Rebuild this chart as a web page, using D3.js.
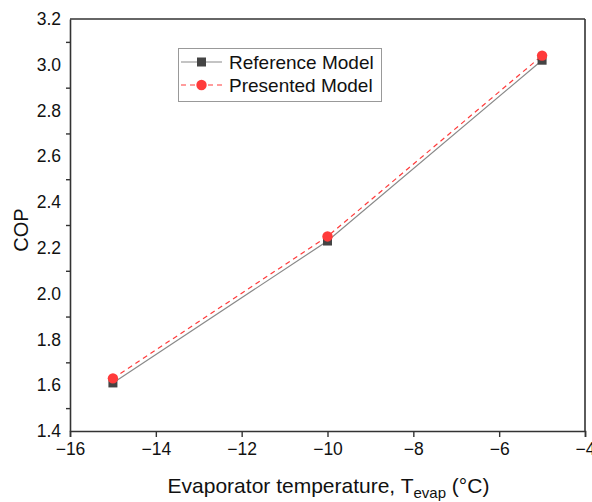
<!DOCTYPE html>
<html><head><meta charset="utf-8">
<script src="https://cdn.jsdelivr.net/npm/d3@7"></script>
<style>body{margin:0;background:#fff}</style>
</head><body>
<script>
const temps = [-15, -10, -5];
const referenceCOP = [1.61, 2.23, 3.02];
const presentedCOP = [1.63, 2.25, 3.04];
const xTicks = [-16, -14, -12, -10, -8, -6, -4];
const yTicks = [1.4, 1.6, 1.8, 2.0, 2.2, 2.4, 2.6, 2.8, 3.0, 3.2];
const yMinorTicks = [1.5, 1.7, 1.9, 2.1, 2.3, 2.5, 2.7, 2.9, 3.1];
const seriesNames = ["Reference Model", "Presented Model"];

const W = 592, H = 502;
const m = {left: 70, right: 7, top: 19, bottom: 71};
const svg = d3.select("body").append("svg").attr("width", W).attr("height", H)
  .style("font-family", "'Liberation Sans', Arial, sans-serif");

const x = d3.scaleLinear().domain([-16, -4]).range([m.left, W - m.right]);
const y = d3.scaleLinear().domain([1.4, 3.2]).range([H - m.bottom, m.top]);
const axisColor = "#333";

// x axis
const gx = svg.append("g").attr("transform", `translate(0,${H - m.bottom})`)
  .call(d3.axisBottom(x).tickValues(xTicks).tickSize(6).tickPadding(6).tickFormat(d => d3.format("d")(d).replace("-", "\u2212")));
gx.select(".domain").attr("stroke", axisColor).attr("stroke-width", 1.6);
gx.selectAll(".tick line").attr("stroke", axisColor).attr("stroke-width", 1.4);
gx.selectAll(".tick text").attr("font-size", 17.5).attr("fill", "#111");

// y axis
const gy = svg.append("g").attr("transform", `translate(${m.left},0)`)
  .call(d3.axisLeft(y).tickValues(yTicks).tickSize(0).tickPadding(9).tickFormat(d3.format(".1f")));
gy.select(".domain").attr("stroke", axisColor).attr("stroke-width", 1.6);
gy.selectAll(".tick text").attr("font-size", 17.5).attr("fill", "#111");
const gym = svg.append("g").attr("transform", `translate(${m.left},0)`)
  .call(d3.axisLeft(y).tickValues(yMinorTicks).tickSize(4).tickFormat(""));
gym.select(".domain").remove();
gym.selectAll(".tick line").attr("stroke", axisColor).attr("stroke-width", 1.4);

// top and right frame
svg.append("line").attr("x1", x(-16)).attr("x2", x(-4)).attr("y1", y(3.2)).attr("y2", y(3.2))
  .attr("stroke", axisColor).attr("stroke-width", 1.6);
svg.append("line").attr("x1", x(-4)).attr("x2", x(-4)).attr("y1", y(3.2)).attr("y2", y(1.4))
  .attr("stroke", axisColor).attr("stroke-width", 1.6);

// axis titles
svg.append("text").attr("transform", `translate(28,${(m.top + H - m.bottom) / 2 + 5}) rotate(-90)`)
  .attr("text-anchor", "middle").attr("font-size", 20).attr("fill", "#111").text("COP");
const xt = svg.append("text").attr("x", (m.left + W - m.right) / 2 + 1).attr("y", 493)
  .attr("text-anchor", "middle").attr("font-size", 21).attr("fill", "#111");
xt.append("tspan").text("Evaporator temperature, T");
xt.append("tspan").attr("font-size", 15).attr("dy", 5).text("evap");
xt.append("tspan").attr("dy", -5).text(" (°C)");

// data
const refData = temps.map((t, i) => [t, referenceCOP[i]]);
const preData = temps.map((t, i) => [t, presentedCOP[i]]);
const line = d3.line().x(d => x(d[0])).y(d => y(d[1]));
const refColor = "#444", refLine = "#8a8a8a", redColor = "#ff3b3b";

svg.append("path").datum(refData).attr("d", line).attr("fill", "none")
  .attr("stroke", refLine).attr("stroke-width", 1.2);
svg.append("path").datum(preData).attr("d", line).attr("fill", "none")
  .attr("stroke", redColor).attr("stroke-width", 1.2).attr("stroke-dasharray", "5,4");
const sq = 9;
svg.selectAll(".sq").data(refData).enter().append("rect")
  .attr("x", d => x(d[0]) - sq / 2).attr("y", d => y(d[1]) - sq / 2)
  .attr("width", sq).attr("height", sq).attr("fill", refColor);
svg.selectAll(".ci").data(preData).enter().append("circle")
  .attr("cx", d => x(d[0])).attr("cy", d => y(d[1])).attr("r", 5.2).attr("fill", redColor);

// legend
const lg = svg.append("g");
lg.append("rect").attr("x", 178.5).attr("y", 48.5).attr("width", 203).attr("height", 53)
  .attr("fill", "#fff").attr("stroke", "#999").attr("stroke-width", 1);
const ly = [62, 85];
lg.append("line").attr("x1", 181).attr("x2", 222).attr("y1", ly[0]).attr("y2", ly[0])
  .attr("stroke", refLine).attr("stroke-width", 1.2);
lg.append("rect").attr("x", 201.5 - sq / 2).attr("y", ly[0] - sq / 2).attr("width", sq).attr("height", sq).attr("fill", refColor);
lg.append("line").attr("x1", 181).attr("x2", 222).attr("y1", ly[1]).attr("y2", ly[1])
  .attr("stroke", redColor).attr("stroke-width", 1.2).attr("stroke-dasharray", "5,4");
lg.append("circle").attr("cx", 201.5).attr("cy", ly[1]).attr("r", 5.2).attr("fill", redColor);
seriesNames.forEach((n, i) => {
  lg.append("text").attr("x", 229).attr("y", ly[i] + 7).attr("font-size", 19).attr("fill", "#111").text(n);
});
</script>
</body></html>
